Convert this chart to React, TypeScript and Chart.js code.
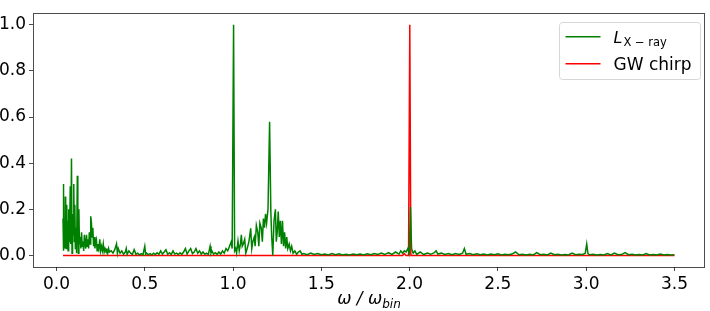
import React, { useEffect, useRef } from "react";
import { Chart, registerables } from "chart.js";

Chart.register(...registerables);

// Axis ticks and limits
const xTicks = [0, 0.5, 1.0, 1.5, 2.0, 2.5, 3.0, 3.5];
const yTicks = [0, 0.2, 0.4, 0.6, 0.8, 1.0];
const xLimits = [-0.133, 3.673];
const yLimits = [-0.05, 1.05];

// Legend labels (main text + subscript)
const legendMain = ["L", "GW chirp"];
const legendSub = ["X \u2212 ray", ""];
const xTitleMain = "\u03c9 / \u03c9";
const xTitleSub = "bin";

// L_X-ray spectrum, [omega/omega_bin, normalised power]
const xrayLow: [number, number][] = [
  [0.037, 0.16], [0.039, 0.31], [0.041, 0.02], [0.044, 0.12], [0.047, 0.03], [0.05, 0.255],
  [0.052, 0.08], [0.055, 0.03], [0.058, 0.22], [0.06, 0.1], [0.063, 0.15], [0.066, 0.02],
  [0.069, 0.2], [0.072, 0.06], [0.075, 0.13], [0.078, 0.3], [0.081, 0.05], [0.085, 0.42],
  [0.088, 0.01], [0.091, 0.18], [0.094, 0.09], [0.098, 0.31], [0.101, 0.06], [0.104, 0.22],
  [0.107, 0.03], [0.11, 0.12], [0.114, 0.01], [0.118, 0.345], [0.121, 0.16], [0.124, 0.01],
  [0.127, 0.2], [0.13, 0.05], [0.134, 0.08], [0.138, 0.03], [0.142, 0.1], [0.146, 0.04],
  [0.15, 0.06], [0.154, 0.02], [0.158, 0.09], [0.162, 0.05], [0.166, 0.03], [0.17, 0.09],
  [0.174, 0.04], [0.178, 0.07], [0.182, 0.03], [0.186, 0.1], [0.19, 0.05], [0.194, 0.17],
  [0.198, 0.14], [0.202, 0.08], [0.206, 0.12], [0.21, 0.04], [0.214, 0.08], [0.218, 0.03],
  [0.222, 0.06], [0.226, 0.07], [0.23, 0.02], [0.235, 0.05], [0.24, 0.03], [0.245, 0.07],
  [0.25, 0.02], [0.255, 0.04], [0.26, 0.02], [0.265, 0.05], [0.27, 0.015], [0.275, 0.03],
  [0.28, 0.02], [0.285, 0.025], [0.29, 0.01], [0.295, 0.03], [0.3, 0.015],
];

const xrayMid: [number, number][] = [
  [0.31, 0.02], [0.32, 0.01], [0.33, 0.025], [0.34, 0.05], [0.345, 0.01], [0.35, 0.03],
  [0.36, 0.01], [0.37, 0.02], [0.38, 0.005], [0.39, 0.015], [0.395, 0.03], [0.4, 0.005],
  [0.41, 0.02], [0.42, 0.01], [0.43, 0.005], [0.44, 0.025], [0.45, 0.005], [0.46, 0.01],
  [0.47, 0.003], [0.48, 0.008], [0.49, 0.003], [0.5, 0.04], [0.505, 0.005], [0.51, 0.01],
  [0.52, 0.004], [0.53, 0.008], [0.54, 0.003], [0.55, 0.01], [0.56, 0.004], [0.57, 0.012],
  [0.58, 0.005], [0.59, 0.02], [0.6, 0.006], [0.61, 0.015], [0.62, 0.025], [0.63, 0.005],
  [0.64, 0.012], [0.65, 0.004], [0.66, 0.02], [0.67, 0.006], [0.68, 0.01], [0.69, 0.004],
  [0.7, 0.012], [0.71, 0.005], [0.72, 0.015], [0.73, 0.03], [0.74, 0.006], [0.75, 0.02],
  [0.76, 0.03], [0.77, 0.008], [0.78, 0.015], [0.79, 0.03], [0.8, 0.01], [0.81, 0.02],
  [0.82, 0.006], [0.83, 0.015], [0.84, 0.005], [0.85, 0.01], [0.86, 0.004], [0.87, 0.04],
  [0.875, 0.01], [0.88, 0.02], [0.89, 0.006], [0.9, 0.012], [0.91, 0.005], [0.92, 0.015],
  [0.93, 0.006], [0.94, 0.02], [0.95, 0.01], [0.96, 0.03], [0.97, 0.02], [0.98, 0.04],
  [0.99, 0.06], [0.995, 0.03],
];

const xrayPeaks: [number, number][] = [
  [1.003, 1.0], [1.009, 0.02], [1.015, 0.03], [1.02, 0.01],
  [1.028, 0.063], [1.035, 0.02], [1.042, 0.05], [1.047, 0.09], [1.052, 0.04], [1.058, 0.05],
  [1.066, 0.07], [1.072, 0.01], [1.08, 0.03], [1.09, 0.06], [1.1, 0.118], [1.106, 0.03],
  [1.112, 0.06], [1.12, 0.08], [1.125, 0.04], [1.132, 0.13], [1.14, 0.1], [1.146, 0.04],
  [1.152, 0.14], [1.16, 0.118], [1.166, 0.06], [1.172, 0.16], [1.178, 0.12], [1.184, 0.18],
  [1.19, 0.14], [1.198, 0.2], [1.207, 0.58], [1.214, 0.19],
  [1.219, 0.08], [1.225, 0.0], [1.232, 0.15], [1.24, 0.2], [1.245, 0.06], [1.25, 0.1],
  [1.256, 0.19], [1.262, 0.08], [1.268, 0.15], [1.274, 0.05], [1.28, 0.15], [1.286, 0.04],
  [1.292, 0.1], [1.298, 0.03], [1.304, 0.08], [1.31, 0.03], [1.318, 0.05], [1.325, 0.02],
  [1.332, 0.04], [1.34, 0.01], [1.35, 0.02], [1.36, 0.005], [1.37, 0.015], [1.38, 0.02],
  [1.39, 0.005],
];

const xrayTail: [number, number][] = [
  [1.4, 0.008], [1.42, 0.003], [1.44, 0.01], [1.46, 0.004], [1.48, 0.008], [1.5, 0.003],
  [1.52, 0.006], [1.54, 0.002], [1.56, 0.008], [1.58, 0.003], [1.6, 0.007], [1.62, 0.002],
  [1.64, 0.005], [1.66, 0.002], [1.68, 0.006], [1.7, 0.003], [1.72, 0.006], [1.74, 0.002],
  [1.76, 0.007], [1.78, 0.003], [1.8, 0.008], [1.82, 0.004], [1.84, 0.01], [1.86, 0.004],
  [1.88, 0.012], [1.9, 0.005], [1.92, 0.015], [1.94, 0.006], [1.95, 0.02], [1.96, 0.01],
  [1.97, 0.02], [1.98, 0.015], [1.99, 0.03], [1.998, 0.01], [2.005, 0.21], [2.011, 0.03],
  [2.02, 0.01], [2.03, 0.02], [2.04, 0.005], [2.06, 0.015], [2.08, 0.004], [2.1, 0.01],
  [2.12, 0.005], [2.14, 0.012], [2.15, 0.02], [2.16, 0.006], [2.18, 0.01], [2.2, 0.004],
  [2.22, 0.008], [2.24, 0.003], [2.26, 0.008], [2.28, 0.004], [2.3, 0.01], [2.31, 0.03],
  [2.32, 0.005], [2.34, 0.008], [2.36, 0.003], [2.38, 0.007], [2.4, 0.003], [2.42, 0.006],
  [2.44, 0.002], [2.46, 0.006], [2.48, 0.003], [2.5, 0.007], [2.52, 0.002], [2.54, 0.005],
  [2.56, 0.003], [2.58, 0.006], [2.6, 0.015], [2.62, 0.003], [2.64, 0.005], [2.66, 0.002],
  [2.68, 0.005], [2.7, 0.002], [2.72, 0.012], [2.74, 0.003], [2.76, 0.005], [2.78, 0.002],
  [2.8, 0.01], [2.82, 0.003], [2.84, 0.005], [2.86, 0.002], [2.88, 0.004], [2.9, 0.002],
  [2.92, 0.01], [2.94, 0.003], [2.96, 0.005], [2.98, 0.004], [2.995, 0.01], [3.003, 0.05],
  [3.01, 0.008], [3.02, 0.003], [3.04, 0.005], [3.06, 0.002], [3.08, 0.004], [3.1, 0.002],
  [3.12, 0.008], [3.14, 0.002], [3.16, 0.01], [3.18, 0.003], [3.2, 0.004], [3.22, 0.012],
  [3.24, 0.003], [3.26, 0.005], [3.28, 0.002], [3.3, 0.004], [3.32, 0.002], [3.34, 0.008],
  [3.36, 0.002], [3.38, 0.004], [3.4, 0.002], [3.42, 0.006], [3.44, 0.002], [3.46, 0.004],
  [3.48, 0.002], [3.5, 0.003],
];

// GW chirp spectrum
const gwChirp: [number, number][] = [
  [0.037, 0.0], [1.96, 0.0], [1.97, 0.008], [1.98, 0.0], [1.994, 0.0],
  [2.001, 1.0], [2.007, 0.0], [3.5, 0.0],
];

const seriesColors = ["#008000", "#ff0000"];

const FONT = '"DejaVu Sans", sans-serif';

const overlayPlugin = {
  id: "overlay",
  afterDraw(chart: any) {
    const { ctx, chartArea: a } = chart;
    ctx.save();
    // frame (spines)
    ctx.strokeStyle = "rgba(0,0,0,0.7)";
    ctx.lineWidth = 1;
    ctx.strokeRect(Math.round(a.left) + 0.5, Math.round(a.top) + 0.5,
      Math.round(a.right) - Math.round(a.left) - 1, Math.round(a.bottom) - Math.round(a.top));

    // x-axis title
    const cx = (a.left + a.right) / 2;
    const by = 304;
    ctx.fillStyle = "#000";
    ctx.textBaseline = "alphabetic";
    ctx.textAlign = "left";
    const mainFont = `italic 17px ${FONT}`;
    const subFont = `italic 12px ${FONT}`;
    ctx.font = mainFont;
    const w1 = ctx.measureText(xTitleMain).width;
    ctx.font = subFont;
    const w2 = ctx.measureText(xTitleSub).width;
    const x0 = cx - (w1 + w2) / 2;
    ctx.font = mainFont;
    ctx.fillText(xTitleMain, x0, by);
    ctx.font = subFont;
    ctx.fillText(xTitleSub, x0 + w1, by + 4);

    // legend
    const lx = a.right - 5 - 141;
    const ly = a.top + 9;
    const lw = 141;
    const lh = 57;
    ctx.beginPath();
    (ctx as any).roundRect(Math.round(lx) + 0.5, Math.round(ly) + 0.5, lw, lh, 3);
    ctx.fillStyle = "rgba(255,255,255,0.8)";
    ctx.fill();
    ctx.strokeStyle = "#d6d6d6";
    ctx.lineWidth = 1;
    ctx.stroke();

    const rows = [ly + 14.5, ly + 41.5];
    rows.forEach((ry, i) => {
      ctx.beginPath();
      ctx.strokeStyle = seriesColors[i];
      ctx.lineWidth = 1.5;
      ctx.moveTo(lx + 6.5, ry);
      ctx.lineTo(lx + 41.5, ry);
      ctx.stroke();
      ctx.fillStyle = "#000";
      const tx = lx + 54.5;
      if (legendSub[i]) {
        ctx.font = `italic 16px ${FONT}`;
        ctx.fillText(legendMain[i], tx, ry + 6.5);
        const mw = ctx.measureText(legendMain[i]).width;
        ctx.font = `11.5px ${FONT}`;
        ctx.fillText(legendSub[i], tx + mw + 1, ry + 9.5);
      } else {
        ctx.font = `17px ${FONT}`;
        ctx.fillText(legendMain[i], tx, ry + 6);
      }
    });
    ctx.restore();
  },
};

export default function App() {
  const ref = useRef<HTMLCanvasElement | null>(null);
  useEffect(() => {
    document.body.style.margin = "0";
    const canvas = ref.current;
    if (!canvas) return;
    const xray = [...xrayLow, ...xrayMid, ...xrayPeaks, ...xrayTail].map(([x, y]) => ({ x, y }));
    const gw = gwChirp.map(([x, y]) => ({ x, y }));
    const tickFont = { family: FONT, size: 17 };
    const chart = new Chart(canvas, {
      type: "line",
      data: {
        datasets: [
          {
            label: "L_X-ray",
            data: xray,
            borderColor: seriesColors[0],
            borderWidth: 1.5,
            pointRadius: 0,
            fill: false,
            tension: 0,
          },
          {
            label: "GW chirp",
            data: gw,
            borderColor: seriesColors[1],
            borderWidth: 1.5,
            pointRadius: 0,
            fill: false,
            tension: 0,
          },
        ],
      },
      options: {
        responsive: false,
        animation: false,
        devicePixelRatio: 1,
        layout: { padding: { left: 0, right: 5, top: 0, bottom: 0 } },
        plugins: {
          legend: { display: false },
          tooltip: { enabled: false },
        },
        scales: {
          x: {
            type: "linear",
            min: xLimits[0],
            max: xLimits[1],
            afterBuildTicks: (s: any) => {
              s.ticks = xTicks.map((v) => ({ value: v }));
            },
            afterFit: (s: any) => {
              s.height = 44;
            },
            ticks: {
              callback: (v: any) => Number(v).toFixed(1),
              font: tickFont,
              color: "#000",
              padding: 3,
              maxRotation: 0,
              autoSkip: false,
            },
            grid: {
              drawOnChartArea: false,
              drawTicks: true,
              tickLength: 4,
              color: "rgba(0,0,0,0.7)",
            },
            border: { display: false },
          },
          y: {
            type: "linear",
            min: yLimits[0],
            max: yLimits[1],
            afterBuildTicks: (s: any) => {
              s.ticks = yTicks.map((v) => ({ value: v }));
            },
            afterFit: (s: any) => {
              s.width = 33;
            },
            ticks: {
              callback: (v: any) => Number(v).toFixed(1),
              font: tickFont,
              color: "#000",
              padding: 3,
              autoSkip: false,
            },
            grid: {
              drawOnChartArea: false,
              drawTicks: true,
              tickLength: 4,
              color: "rgba(0,0,0,0.7)",
            },
            border: { display: false },
          },
        },
      },
      plugins: [overlayPlugin],
    });
    return () => chart.destroy();
  }, []);
  return <canvas ref={ref} width={710} height={311} style={{ display: "block" }} />;
}
